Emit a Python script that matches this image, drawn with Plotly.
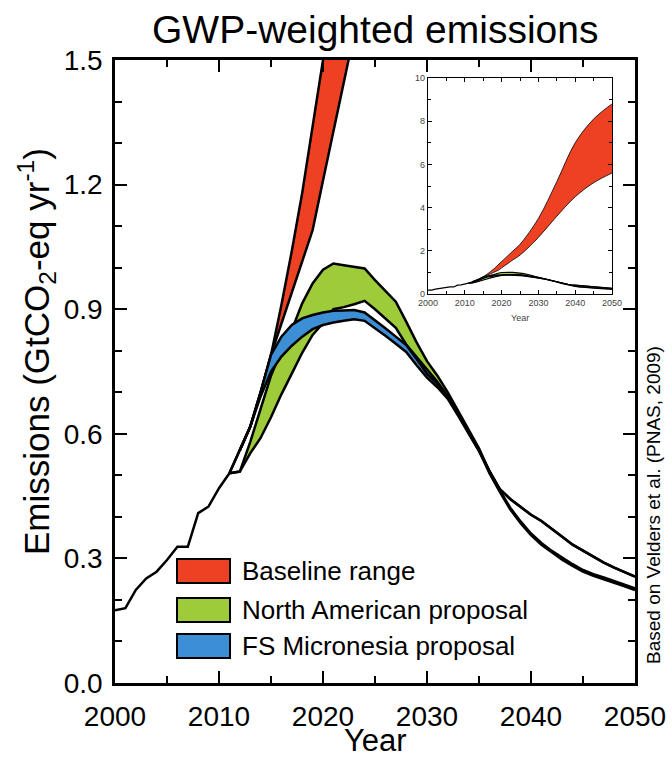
import plotly.graph_objects as go

# ---------------- data ----------------
hist_years = [2000, 2001, 2002, 2003, 2004, 2005, 2006, 2007, 2008, 2009, 2010, 2011]
hist_vals = [0.175, 0.18, 0.224, 0.252, 0.268, 0.296, 0.328, 0.328, 0.409, 0.425, 0.469, 0.505]

base_years = [2011, 2012, 2013, 2014, 2015, 2016, 2017, 2018, 2019, 2020, 2021, 2022, 2023,
              2025, 2030, 2035, 2040, 2045, 2050]
base_low = [0.505, 0.56, 0.617, 0.70, 0.79, 0.865, 0.94, 1.015, 1.09, 1.21, 1.33, 1.45, 1.57,
            1.80, 2.62, 3.60, 4.50, 5.15, 5.60]
base_high = [0.505, 0.56, 0.617, 0.70, 0.79, 0.91, 1.04, 1.18, 1.34, 1.50, 1.66, 1.82, 1.98,
             2.30, 3.50, 5.20, 7.00, 8.10, 8.80]

na_years = list(range(2011, 2051))
na_low = [0.505, 0.509, 0.553, 0.59, 0.64, 0.695, 0.745, 0.795, 0.838, 0.866,
          0.90, 0.905, 0.912, 0.92, 0.90, 0.878, 0.855, 0.815, 0.785, 0.755,
          0.725, 0.69, 0.648, 0.603, 0.56, 0.505, 0.46, 0.418, 0.385, 0.356,
          0.333, 0.314, 0.297, 0.282, 0.268, 0.258, 0.25, 0.242, 0.233, 0.224]
na_high = [0.505, 0.509, 0.58, 0.66, 0.74, 0.80, 0.85, 0.914, 0.962, 0.995,
           1.01, 1.006, 1.002, 0.998, 0.97, 0.945, 0.918, 0.87, 0.82, 0.775,
           0.74, 0.70, 0.655, 0.61, 0.565, 0.51, 0.464, 0.422, 0.389, 0.36,
           0.337, 0.318, 0.301, 0.286, 0.272, 0.262, 0.254, 0.246, 0.237, 0.228]

fsm_years = list(range(2012, 2051))
fsm_low = [0.56, 0.617, 0.69, 0.75, 0.786, 0.812, 0.834, 0.852, 0.862, 0.868,
           0.872, 0.876, 0.872, 0.855, 0.836, 0.817, 0.797, 0.765, 0.735, 0.712,
           0.684, 0.643, 0.60, 0.558, 0.51, 0.467, 0.443, 0.423, 0.405, 0.39,
           0.372, 0.352, 0.333, 0.318, 0.303, 0.29, 0.278, 0.267, 0.256]
fsm_high = [0.56, 0.617, 0.70, 0.79, 0.834, 0.862, 0.878, 0.886, 0.892, 0.896,
            0.897, 0.898, 0.892, 0.874, 0.854, 0.834, 0.814, 0.78, 0.745, 0.72,
            0.69, 0.648, 0.603, 0.56, 0.51, 0.467, 0.443, 0.423, 0.405, 0.39,
            0.372, 0.352, 0.333, 0.318, 0.303, 0.29, 0.278, 0.267, 0.256]

x_ticks = [2000, 2010, 2020, 2030, 2040, 2050]
y_ticks = [0.0, 0.3, 0.6, 0.9, 1.2, 1.5]
inset_y_ticks = [0, 2, 4, 6, 8, 10]

legend_labels = ["Baseline range", "North American proposal", "FS Micronesia proposal"]

RED = "#EE4123"
GREEN = "#9DCB3A"
BLUE = "#3D8FD5"
FONT = "Liberation Sans, Arial, Helvetica, sans-serif"

fig = go.Figure()


def band(xs, lo, hi, color, xa, ya, lw, shape="linear"):
    fig.add_trace(go.Scatter(x=xs, y=lo, mode="lines", xaxis=xa, yaxis=ya,
                             line=dict(color="black", width=lw, shape=shape),
                             showlegend=False, hoverinfo="skip"))
    fig.add_trace(go.Scatter(x=xs, y=hi, mode="lines", xaxis=xa, yaxis=ya,
                             fill="tonexty", fillcolor=color,
                             line=dict(color="black", width=lw, shape=shape),
                             showlegend=False, hoverinfo="skip"))


# main panel
fig.add_trace(go.Scatter(x=hist_years, y=hist_vals, mode="lines",
                         line=dict(color="black", width=2.5),
                         showlegend=False, hoverinfo="skip"))
band(base_years, base_low, base_high, RED, "x", "y", 2.5)
band(na_years, na_low, na_high, GREEN, "x", "y", 2.5)
band(fsm_years, fsm_low, fsm_high, BLUE, "x", "y", 2.5)

# inset panel
fig.add_trace(go.Scatter(x=hist_years, y=hist_vals, mode="lines", xaxis="x2", yaxis="y2",
                         line=dict(color="black", width=1.2),
                         showlegend=False, hoverinfo="skip"))
band(base_years, base_low, base_high, RED, "x2", "y2", 0.8, "spline")
band(na_years, na_low, na_high, GREEN, "x2", "y2", 1.2)
band(fsm_years, fsm_low, fsm_high, BLUE, "x2", "y2", 1.2)

axis_common = dict(showline=True, linecolor="black", mirror="allticks", ticks="inside",
                   tickcolor="black", showgrid=False, zeroline=False)

W, H = 672, 757
L, R, T, B = 115, 37, 60, 74
pw, ph = W - L - R, H - T - B


def px_x(p):
    return (p - L) / pw


def px_y(p):
    return (H - B - p) / ph


fig.update_layout(
    width=W, height=H,
    margin=dict(l=L, r=R, t=T, b=B, autoexpand=False),
    paper_bgcolor="white", plot_bgcolor="white",
    font=dict(family=FONT, color="black"),
    xaxis=dict(range=[2000, 2050], tickvals=x_ticks, ticklen=12, tickwidth=2,
               linewidth=2.5, tickfont=dict(size=28, family=FONT),
               ticklabelstandoff=7,
               minor=dict(dtick=5, tick0=2000, ticks="inside", ticklen=7, tickwidth=2,
                          tickcolor="black", showgrid=False),
               **axis_common),
    yaxis=dict(range=[0, 1.5], tickvals=y_ticks, tickformat=".1f", ticklen=12, tickwidth=2,
               linewidth=2.5, tickfont=dict(size=28, family=FONT),
               ticklabelstandoff=4,
               minor=dict(dtick=0.1, tick0=0, ticks="inside", ticklen=7, tickwidth=2,
                          tickcolor="black", showgrid=False),
               **axis_common),
    xaxis2=dict(domain=[px_x(428), px_x(612)], anchor="y2", range=[2000, 2050],
                tickvals=x_ticks, ticklen=4, tickwidth=1, linewidth=1.2,
                tickfont=dict(size=9, color="#444", family=FONT),
                minor=dict(dtick=5, tick0=2000, ticks="inside", ticklen=2.5, tickwidth=1,
                           tickcolor="black", showgrid=False),
                **axis_common),
    yaxis2=dict(domain=[px_y(294), px_y(78)], anchor="x2", range=[0, 10],
                tickvals=inset_y_ticks, ticklen=4, tickwidth=1, linewidth=1.2,
                tickfont=dict(size=9, color="#444", family=FONT),
                minor=dict(dtick=1, tick0=0, ticks="inside", ticklen=2.5, tickwidth=1,
                           tickcolor="black", showgrid=False),
                **axis_common),
)

ann = []
ann.append(dict(text="GWP-weighted emissions", x=px_x(375), y=px_y(30), xref="paper",
                yref="paper", showarrow=False, font=dict(size=39, family=FONT),
                xanchor="center", yanchor="middle"))
ann.append(dict(text="Year", x=px_x(375), y=px_y(740), xref="paper", yref="paper",
                showarrow=False, font=dict(size=31, family=FONT), xanchor="center",
                yanchor="middle"))
ann.append(dict(text="Emissions (GtCO<sub>2</sub>-eq yr<sup>-1</sup>)", x=px_x(36),
                y=px_y(352), xref="paper", yref="paper", textangle=-90, showarrow=False,
                font=dict(size=35, family=FONT), xanchor="center", yanchor="middle"))
ann.append(dict(text="Based on Velders et al. (PNAS, 2009)", x=px_x(653), y=px_y(505),
                xref="paper", yref="paper", textangle=-90, showarrow=False,
                font=dict(size=19, family=FONT), xanchor="center", yanchor="middle"))
ann.append(dict(text="Year", x=px_x(520), y=px_y(318), xref="paper", yref="paper",
                showarrow=False, font=dict(size=9, color="#444", family=FONT),
                xanchor="center", yanchor="middle"))

shapes = []
leg_colors = [RED, GREEN, BLUE]
leg_centers = [571, 610, 646]
for lab, col, cy in zip(legend_labels, leg_colors, leg_centers):
    shapes.append(dict(type="rect", xref="paper", yref="paper",
                       x0=px_x(177), x1=px_x(230), y0=px_y(cy + 12), y1=px_y(cy - 12),
                       fillcolor=col, line=dict(color="black", width=2)))
    ann.append(dict(text=lab, x=px_x(240), y=px_y(cy), xref="paper", yref="paper",
                    showarrow=False, font=dict(size=26, family=FONT),
                    xanchor="left", yanchor="middle"))

fig.update_layout(annotations=ann, shapes=shapes)
fig.write_html("out.html", config={"displayModeBar": False},
               post_script="document.body.style.margin='0px';document.body.style.overflow='hidden';")
